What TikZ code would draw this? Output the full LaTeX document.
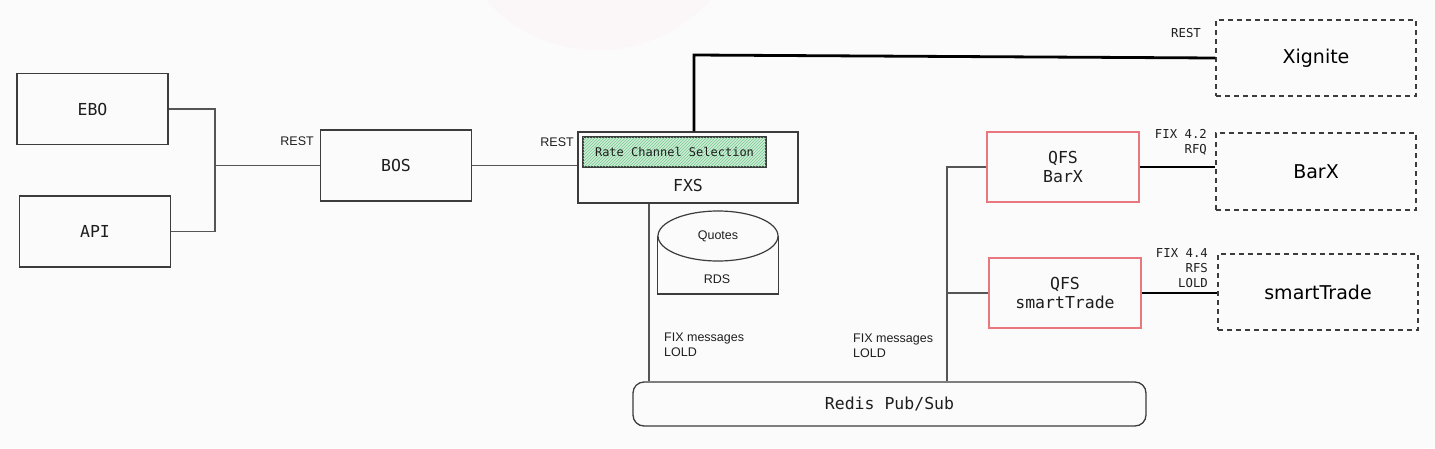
\documentclass[tikz,border=0pt]{standalone}
\usepackage{fontspec}
\setmainfont{Liberation Sans}
\newfontfamily\monof{DejaVu Sans Mono}
\newfontfamily\handf{DejaVu Sans}
\usetikzlibrary{shapes.geometric,patterns}
\definecolor{bgc}{RGB}{252,251,251}
\definecolor{pinkc}{RGB}{251,246,248}
\definecolor{linec}{RGB}{85,85,85}
\definecolor{boxc}{RGB}{60,60,60}
\definecolor{redc}{RGB}{232,120,125}
\definecolor{greenf}{RGB}{205,238,214}
\definecolor{greenh}{RGB}{120,200,145}
\definecolor{txtc}{RGB}{30,30,30}
\begin{document}
\begin{tikzpicture}[x=1pt,y=-1pt,
  sysbox/.style={draw=boxc,line width=1.4pt,minimum width=151pt,minimum height=71pt,inner sep=0pt,font=\monof\fontsize{16.5}{19.5}\selectfont,text=txtc,align=center},
  qfsbox/.style={sysbox,draw=redc},
  extbox/.style={draw=boxc,line width=1.1pt,dash pattern=on 5pt off 4pt,minimum width=200pt,minimum height=76pt,inner sep=0pt,font=\handf\fontsize{19}{22}\selectfont,text=black},
  conn/.style={draw=linec,line width=1.3pt},
  thickconn/.style={draw=black,line width=2.8pt},
  lbl/.style={font=\fontsize{12.5}{15}\selectfont,text=txtc,inner sep=0pt,align=left},
  mlbl/.style={font=\monof\fontsize{12.3}{15}\selectfont,text=txtc,inner sep=0pt,align=right}
]
\useasboundingbox (0,0) rectangle (1435,448);
\fill[bgc] (0,0) rectangle (1435,448);
\begin{scope}
\clip (0,0) rectangle (1435,448);
\fill[pinkc] (598,-100) circle (150);
\end{scope}

% nodes
\node[sysbox] (EBO) at (92.5,109) {EBO};
\node[sysbox] (API) at (95,231.5) {API};
\node[sysbox] (BOS) at (396,165.5) {BOS};
\node[sysbox,minimum width=220pt,minimum height=71pt] (FXS) at (688,167.5) {};
\node[draw=boxc,line width=1.2pt,minimum width=183pt,minimum height=30pt,inner sep=0pt,
      fill=greenf,font=\monof\fontsize{12}{14}\selectfont,text=txtc] (RCS) at (674.5,152) {};
\fill[pattern=north east lines,pattern color=greenh] (RCS.south west) rectangle (RCS.north east);
\draw[boxc,line width=1.2pt] (RCS.south west) rectangle (RCS.north east);
\node[font=\monof\fontsize{12}{14}\selectfont,text=txtc] (RCSt) at (RCS.center) {Rate Channel Selection};
\node[font=\monof\fontsize{16.5}{19.5}\selectfont,text=txtc] (FXSt) at (688,185) {FXS};

\node[qfsbox,minimum width=152pt,minimum height=70pt] (QFSB) at (1063,167) {QFS\\BarX};
\node[qfsbox,minimum width=152pt,minimum height=70pt] (QFSS) at (1065,293) {QFS\\smartTrade};

\node[extbox] (XIG) at (1316,58) {Xignite};
\node[extbox,minimum height=77pt] (BARX) at (1316,171.5) {BarX};
\node[extbox] (SMT) at (1318,292) {smartTrade};

\node[draw=boxc,line width=1.3pt,rounded corners=11pt,minimum width=513pt,minimum height=44pt,
      inner sep=0pt,font=\monof\fontsize{16.5}{19.5}\selectfont,text=txtc] (REDIS) at (889.5,404) {Redis Pub/Sub};

% RDS cylinder
\node[draw=boxc,line width=1.2pt,ellipse,minimum width=120pt,minimum height=50pt,inner sep=0pt,
      font=\fontsize{12.5}{15}\selectfont,text=txtc] (QUO) at (718,236) {Quotes};
\draw[boxc,line width=1.2pt] (QUO.west) -- (QUO.west |- 0,294) -- (QUO.east |- 0,294) -- (QUO.east);
\node[lbl] (RDS) at (717,279) {RDS};

% coordinates
\coordinate (j1) at (215,165.5);
\coordinate (xa) at (694,55);
\coordinate (fx) at (649,0);
\coordinate (qb) at (947,0);

% connectors
\draw[conn] (EBO.east) -| (j1) |- (API.east);
\draw[conn] (j1) -- (BOS.west);
\draw[conn] (BOS.east) -- (BOS.east -| FXS.west);
\draw[thickconn] (xa |- FXS.north) -- (xa) -- (XIG.west);
\draw[conn] (fx |- FXS.south) -- (fx |- REDIS.north);
\draw[conn] (QFSB.west) -- (QFSB.west -| qb) -- (qb |- REDIS.north);
\draw[conn] (QFSS.west) -- (QFSS.west -| qb);
\draw[thickconn] (QFSB.east) -- (QFSB.east -| BARX.west);
\draw[thickconn] (QFSS.east) -- (QFSS.east -| SMT.west);

% labels
\node[lbl,anchor=east] (l1) at (314,141) {REST};
\node[lbl,anchor=east] (l2) at (574,142) {REST};
\node[mlbl,anchor=east] (l3) at (1201,33) {REST};
\node[mlbl,anchor=north east] (l4) at (1207,129) {FIX 4.2\\RFQ};
\node[mlbl,anchor=north east] (l5) at (1208,248) {FIX 4.4\\RFS\\LOLD};
\node[lbl,anchor=north west] (l6) at (664,333) {FIX messages\\LOLD};
\node[lbl,anchor=north west] (l7) at (853,334) {FIX messages\\LOLD};
\end{tikzpicture}
\end{document}
